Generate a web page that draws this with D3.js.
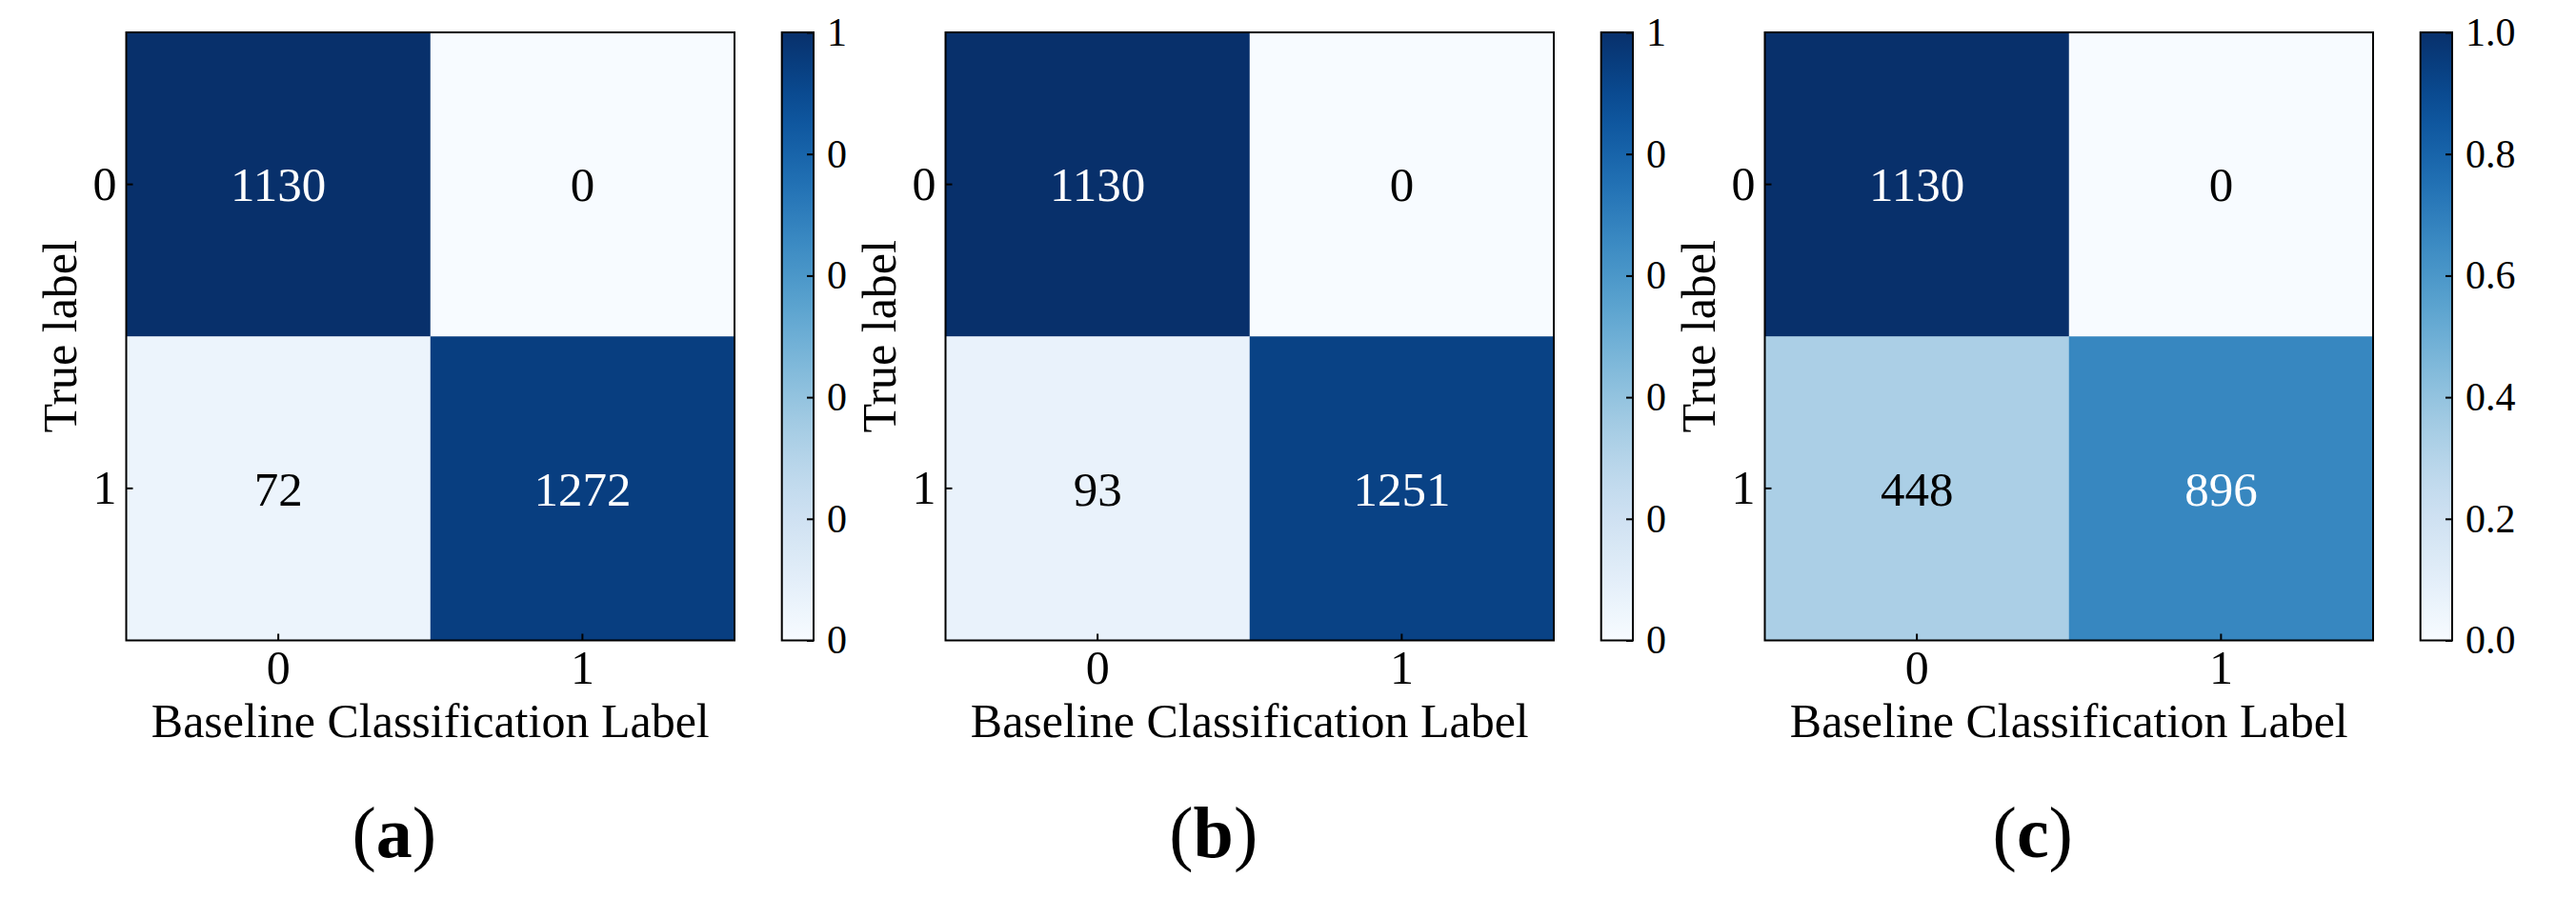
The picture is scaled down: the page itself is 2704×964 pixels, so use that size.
<!DOCTYPE html>
<html>
<head>
<meta charset="utf-8">
<script src="https://cdn.jsdelivr.net/npm/d3@7"></script>
<style>
  html, body { margin: 0; padding: 0; background: #fff; }
  svg { display: block; }
</style>
</head>
<body>
<svg id="chart" width="2704" height="964"></svg>
<script>
// ---- data ----
const classes = ["0", "1"];
const panelLabels = ["a", "b", "c"];
const matrixA = [[1130, 0], [72, 1272]];
const matrixB = [[1130, 0], [93, 1251]];
const matrixC = [[1130, 0], [448, 896]];
const cbTicks = [0, 0.2, 0.4, 0.6, 0.8, 1.0];
const cbTickLabelsA = ["0", "0", "0", "0", "0", "1"];
const cbTickLabelsB = ["0", "0", "0", "0", "0", "1"];
const cbTickLabelsC = ["0.0", "0.2", "0.4", "0.6", "0.8", "1.0"];
const xTitle = "Baseline Classification Label";
const yTitle = "True label";

const panels = [
  { m: matrixA, cb: cbTickLabelsA, label: panelLabels[0] },
  { m: matrixB, cb: cbTickLabelsB, label: panelLabels[1] },
  { m: matrixC, cb: cbTickLabelsC, label: panelLabels[2] }
];

// ---- layout ----
const FONT = "'Liberation Serif', 'Times New Roman', serif";
const firstLeft = 132.5, panelStep = 860, plotTop = 34, size = 638.5;
const cbGap = 49.7, cbW = 33.3;

const svg = d3.select("#chart");
const color = d3.scaleSequential(d3.interpolateBlues).domain([0, 1]);

// gradient for colorbar
const defs = svg.append("defs");
const grad = defs.append("linearGradient").attr("id", "cbgrad")
  .attr("x1", 0).attr("y1", 1).attr("x2", 0).attr("y2", 0);
d3.range(0, 1.0001, 0.05).forEach(t => {
  grad.append("stop").attr("offset", t).attr("stop-color", color(t));
});

panels.forEach((p, i) => {
  const left = firstLeft + i * panelStep;
  const g = svg.append("g");
  const x = d3.scaleBand().domain(classes).range([left, left + size]).padding(0);
  const y = d3.scaleBand().domain(classes).range([plotTop, plotTop + size]).padding(0);

  const cells = [];
  p.m.forEach((row, r) => {
    const tot = d3.sum(row);
    row.forEach((v, c) => cells.push({ r, c, v, norm: v / tot }));
  });

  g.selectAll("rect.cell").data(cells).join("rect")
    .attr("class", "cell")
    .attr("x", d => x(classes[d.c]))
    .attr("y", d => y(classes[d.r]))
    .attr("width", x.bandwidth() + 0.5)
    .attr("height", y.bandwidth() + 0.5)
    .attr("fill", d => color(d.norm));

  g.selectAll("text.val").data(cells).join("text")
    .attr("class", "val")
    .attr("x", d => x(classes[d.c]) + x.bandwidth() / 2)
    .attr("y", d => y(classes[d.r]) + y.bandwidth() / 2)
    .attr("dy", "0.35em")
    .attr("text-anchor", "middle")
    .attr("font-family", FONT)
    .attr("font-size", 51)
    .attr("fill", d => d.norm > 0.5 ? "#ffffff" : "#000000")
    .text(d => d.v);

  // axes
  const xAxis = g.append("g").attr("transform", `translate(0,${plotTop + size})`)
    .call(d3.axisBottom(x).tickSize(-7).tickPadding(10));
  const yAxis = g.append("g").attr("transform", `translate(${left},0)`)
    .call(d3.axisLeft(y).tickSize(-7).tickPadding(10));
  [xAxis, yAxis].forEach(a => {
    a.select(".domain").remove();
    a.selectAll("line").attr("stroke", "#000").attr("stroke-width", 2);
    a.selectAll("text").attr("font-family", FONT).attr("font-size", 50).attr("fill", "#000");
  });

  g.append("rect").attr("x", left).attr("y", plotTop).attr("width", size).attr("height", size)
    .attr("fill", "none").attr("stroke", "#000").attr("stroke-width", 2);

  // titles
  g.append("text")
    .attr("x", left + size / 2).attr("y", 774)
    .attr("text-anchor", "middle").attr("font-family", FONT).attr("font-size", 50)
    .text(xTitle);
  g.append("text")
    .attr("transform", `translate(${left - 53},${plotTop + size / 2}) rotate(-90)`)
    .attr("text-anchor", "middle").attr("font-family", FONT).attr("font-size", 50)
    .text(yTitle);

  // colorbar
  const cbX = left + size + cbGap;
  const cbScale = d3.scaleLinear().domain([0, 1]).range([plotTop + size, plotTop]);
  g.append("rect").attr("x", cbX).attr("y", plotTop).attr("width", cbW).attr("height", size)
    .attr("fill", "url(#cbgrad)");
  const cbAxis = g.append("g").attr("transform", `translate(${cbX + cbW},0)`)
    .call(d3.axisRight(cbScale).tickValues(cbTicks).tickFormat((d, k) => p.cb[k])
      .tickSize(-7).tickPadding(14));
  cbAxis.select(".domain").remove();
  cbAxis.selectAll("line").attr("stroke", "#000").attr("stroke-width", 2);
  cbAxis.selectAll("text").attr("font-family", FONT).attr("font-size", 42).attr("fill", "#000");
  g.append("rect").attr("x", cbX).attr("y", plotTop).attr("width", cbW).attr("height", size)
    .attr("fill", "none").attr("stroke", "#000").attr("stroke-width", 2);

  // panel label: thin parentheses, bold letter
  const pl = g.append("text")
    .attr("x", left + size / 2 - 38).attr("y", 900)
    .attr("text-anchor", "middle").attr("font-family", FONT).attr("font-size", 76);
  pl.append("tspan").text("(");
  pl.append("tspan").attr("font-weight", "bold").text(p.label);
  pl.append("tspan").text(")");
});
</script>
</body>
</html>
